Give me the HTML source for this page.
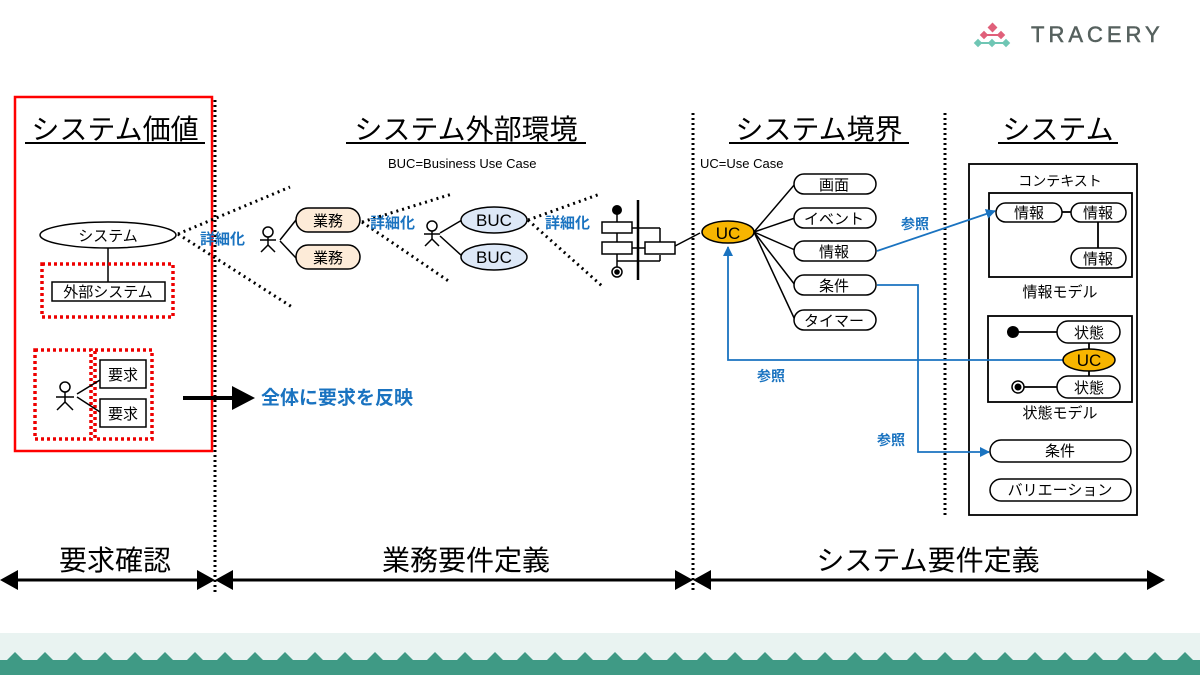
<!DOCTYPE html>
<html><head><meta charset="utf-8"><style>
html,body{margin:0;padding:0;background:#fff;}
svg{display:block;font-family:"Liberation Sans","Noto Sans CJK JP",sans-serif;}
</style></head><body>
<svg width="1200" height="675" viewBox="0 0 1200 675" xmlns="http://www.w3.org/2000/svg">
<defs>
<marker id="ab" markerWidth="10" markerHeight="10" refX="9" refY="5" orient="auto" markerUnits="userSpaceOnUse"><path d="M0,0 L10,5 L0,10 z" fill="#1a73c0"/></marker>
<pattern id="zz" x="0" y="648" width="30" height="16" patternUnits="userSpaceOnUse">
<path d="M0,12 L7,12 L15,4 L23,12 L30,12 L30,16 L0,16z" fill="#3f9a85"/>
</pattern>
</defs>
<!-- footer -->
<rect x="0" y="633" width="1200" height="42" fill="#e9f3f1"/>
<rect x="0" y="660" width="1200" height="15" fill="#3f9a85"/>
<rect x="0" y="648" width="1200" height="16" fill="url(#zz)"/>
<!-- logo -->
<g>
<rect x="989" y="24" width="7" height="7" fill="#e0607a" transform="rotate(45 992.5 27.5)"/>
<rect x="981" y="32" width="6" height="6" fill="#e0607a" transform="rotate(45 984 35)"/>
<rect x="998" y="32" width="6" height="6" fill="#e0607a" transform="rotate(45 1001 35)"/>
<line x1="984" y1="35" x2="1001" y2="35" stroke="#e0607a" stroke-width="2"/>
<rect x="975" y="40" width="6" height="6" fill="#6fc6b4" transform="rotate(45 978 43)"/>
<rect x="989" y="40" width="6" height="6" fill="#6fc6b4" transform="rotate(45 992 43)"/>
<rect x="1003" y="40" width="6" height="6" fill="#6fc6b4" transform="rotate(45 1006 43)"/>
<line x1="978" y1="43" x2="1006" y2="43" stroke="#6fc6b4" stroke-width="2"/>
<text x="1031" y="42" font-size="22" letter-spacing="4" fill="#56615e" stroke="#56615e" stroke-width="0.5">TRACERY</text>
</g>
<!-- headings -->
<g font-size="28" fill="#000" text-anchor="middle">
<text x="115" y="139">システム価値</text>
<text x="466" y="139">システム外部環境</text>
<text x="819" y="139">システム境界</text>
<text x="1058" y="139">システム</text>
</g>
<line x1="25" y1="143" x2="205" y2="143" stroke="#000" stroke-width="2"/>
<line x1="346" y1="143" x2="586" y2="143" stroke="#000" stroke-width="2"/>
<line x1="729" y1="143" x2="909" y2="143" stroke="#000" stroke-width="2"/>
<line x1="998" y1="143" x2="1118" y2="143" stroke="#000" stroke-width="2"/>
<text x="388" y="168" font-size="13">BUC=Business Use Case</text>
<text x="700" y="168" font-size="13">UC=Use Case</text>
<!-- red box -->
<rect x="15" y="97" width="197" height="354" fill="none" stroke="#f00" stroke-width="2.5"/>
<!-- vertical dotted -->
<g stroke="#000" stroke-width="3" stroke-dasharray="2,3">
<line x1="215" y1="100" x2="215" y2="592"/>
<line x1="693" y1="113" x2="693" y2="592"/>
<line x1="945" y1="113" x2="945" y2="516"/>
</g>
<!-- bottom arrows -->
<g stroke="#000" stroke-width="3">
<line x1="10" y1="580" x2="205" y2="580"/>
<line x1="225" y1="580" x2="683" y2="580"/>
<line x1="703" y1="580" x2="1155" y2="580"/>
</g>
<g fill="#000">
<path d="M0,580 L18,570 L18,590z"/><path d="M215,580 L197,570 L197,590z"/>
<path d="M215,580 L233,570 L233,590z"/><path d="M693,580 L675,570 L675,590z"/>
<path d="M693,580 L711,570 L711,590z"/><path d="M1165,580 L1147,570 L1147,590z"/>
</g>
<g font-size="28" text-anchor="middle">
<text x="115" y="570">要求確認</text>
<text x="466" y="570">業務要件定義</text>
<text x="928" y="570">システム要件定義</text>
</g>
<!-- left content -->
<ellipse cx="108" cy="235" rx="68" ry="13" fill="#fff" stroke="#000" stroke-width="1.5"/>
<text x="108" y="241" font-size="15" text-anchor="middle">システム</text>
<line x1="108" y1="248" x2="108" y2="282" stroke="#000" stroke-width="1.5"/>
<rect x="42" y="264" width="131" height="53" fill="none" stroke="#e00" stroke-width="3.5" stroke-dasharray="3,3"/>
<rect x="52" y="282" width="113" height="19" fill="#fff" stroke="#000" stroke-width="1.5"/>
<text x="108" y="297" font-size="15" text-anchor="middle">外部システム</text>
<rect x="35" y="350" width="56" height="89" fill="none" stroke="#e00" stroke-width="3.5" stroke-dasharray="3,3"/>
<rect x="95" y="350" width="57" height="89" fill="none" stroke="#e00" stroke-width="3.5" stroke-dasharray="3,3"/>
<g stroke="#000" stroke-width="1.5" fill="#fff">
<circle cx="65" cy="387" r="5"/><line x1="65" y1="392" x2="65" y2="402"/><line x1="56" y1="397" x2="74" y2="397"/><line x1="65" y1="402" x2="57" y2="410"/><line x1="65" y1="402" x2="73" y2="410"/>
<line x1="77" y1="394" x2="100" y2="380"/><line x1="77" y1="397" x2="100" y2="412"/>
<rect x="100" y="360" width="46" height="28"/><rect x="100" y="399" width="46" height="28"/>
</g>
<text x="123" y="380" font-size="15" text-anchor="middle">要求</text>
<text x="123" y="419" font-size="15" text-anchor="middle">要求</text>
<line x1="183" y1="398" x2="235" y2="398" stroke="#000" stroke-width="4"/>
<path d="M255,398 L232,386 L232,410z" fill="#000"/>
<text x="261" y="404" font-size="19" font-weight="bold" fill="#1a73c0">全体に要求を反映</text>
<!-- fans -->
<g stroke="#000" stroke-width="3" stroke-dasharray="2,4">
<line x1="178" y1="234" x2="290" y2="187"/><line x1="178" y1="234" x2="292" y2="307"/>
<line x1="362" y1="222" x2="452" y2="194"/><line x1="362" y1="222" x2="450" y2="282"/>
<line x1="528" y1="220" x2="600" y2="194"/><line x1="528" y1="220" x2="602" y2="286"/>
</g>
<g font-size="15" font-weight="bold" fill="#1a73c0">
<text x="200" y="244">詳細化</text>
<text x="370" y="228">詳細化</text>
<text x="545" y="228">詳細化</text>
</g>
<g stroke="#000" stroke-width="1.5" fill="#fff">
<circle cx="268" cy="232" r="5"/><line x1="268" y1="237" x2="268" y2="245"/><line x1="260" y1="240" x2="276" y2="240"/><line x1="268" y1="245" x2="261" y2="252"/><line x1="268" y1="245" x2="275" y2="252"/>
<line x1="280" y1="240" x2="296" y2="220"/><line x1="280" y1="241" x2="296" y2="258"/>
<rect x="296" y="208" width="64" height="24" rx="12" fill="#fdebd8"/>
<rect x="296" y="245" width="64" height="24" rx="12" fill="#fdebd8"/>
<circle cx="432" cy="226" r="5"/><line x1="432" y1="231" x2="432" y2="239"/><line x1="424" y1="234" x2="440" y2="234"/><line x1="432" y1="239" x2="425" y2="246"/><line x1="432" y1="239" x2="439" y2="246"/>
<line x1="440" y1="233" x2="462" y2="220"/><line x1="440" y1="236" x2="462" y2="256"/>
<ellipse cx="494" cy="220" rx="33" ry="13" fill="#dde8f7"/>
<ellipse cx="494" cy="257" rx="33" ry="13" fill="#dde8f7"/>
</g>
<text x="328" y="226" font-size="15" text-anchor="middle">業務</text>
<text x="328" y="263" font-size="15" text-anchor="middle">業務</text>
<text x="494" y="226" font-size="17" text-anchor="middle">BUC</text>
<text x="494" y="263" font-size="17" text-anchor="middle">BUC</text>
<!-- state machine icon -->
<g stroke="#000" stroke-width="1.5" fill="#fff">
<line x1="617" y1="210" x2="617" y2="272"/>
<line x1="632" y1="228" x2="660" y2="228"/><line x1="660" y1="228" x2="660" y2="242"/>
<line x1="632" y1="248" x2="645" y2="248"/><line x1="617" y1="261" x2="660" y2="261"/><line x1="660" y1="261" x2="660" y2="255"/>
<rect x="602" y="222" width="30" height="11"/><rect x="602" y="242" width="30" height="12"/>
<rect x="645" y="242" width="30" height="12"/>
<line x1="638" y1="200" x2="638" y2="280" stroke-width="2.5"/>
<circle cx="617" cy="272" r="5"/>
<line x1="675" y1="246" x2="700" y2="233"/>
</g>
<circle cx="617" cy="210" r="5" fill="#000"/>
<circle cx="617" cy="272" r="2.8" fill="#000"/>
<!-- UC -->
<g stroke="#000" stroke-width="1.5" fill="#fff">
<line x1="754" y1="232" x2="795" y2="184"/><line x1="754" y1="232" x2="795" y2="218"/>
<line x1="754" y1="232" x2="795" y2="250"/><line x1="754" y1="232" x2="795" y2="285"/>
<line x1="754" y1="232" x2="795" y2="320"/>
<ellipse cx="728" cy="232" rx="26" ry="11" fill="#f7b500"/>
<rect x="794" y="174" width="82" height="20" rx="10"/>
<rect x="794" y="208" width="82" height="20" rx="10"/>
<rect x="794" y="241" width="82" height="20" rx="10"/>
<rect x="794" y="275" width="82" height="20" rx="10"/>
<rect x="794" y="310" width="82" height="20" rx="10"/>
</g>
<text x="728" y="239" font-size="17" text-anchor="middle">UC</text>
<g font-size="15" text-anchor="middle">
<text x="834" y="190">画面</text><text x="834" y="224">イベント</text><text x="834" y="257">情報</text><text x="834" y="291">条件</text><text x="834" y="326">タイマー</text>
</g>
<!-- system box -->
<g stroke="#000" fill="#fff" stroke-width="1.8">
<rect x="969" y="164" width="168" height="351"/>
<rect x="989" y="193" width="143" height="84"/>
<line x1="1062" y1="212" x2="1071" y2="212"/><line x1="1098" y1="222" x2="1098" y2="248"/>
<rect x="988" y="316" width="144" height="86"/>
<line x1="1013" y1="332" x2="1057" y2="332"/><line x1="1018" y1="387" x2="1057" y2="387"/>
<line x1="1089" y1="343" x2="1089" y2="376"/>
</g>
<!-- blue refs -->
<g stroke="#1a73c0" stroke-width="1.8" fill="none">
<line x1="877" y1="251" x2="995" y2="211" marker-end="url(#ab)"/>
<polyline points="877,285 918,285 918,452 989,452" marker-end="url(#ab)"/>
<polyline points="1063,360 728,360 728,247" marker-end="url(#ab)"/>
</g>
<g stroke="#000" fill="#fff" stroke-width="1.5">
<rect x="996" y="203" width="66" height="19" rx="9.5"/>
<rect x="1071" y="203" width="55" height="19" rx="9.5"/>
<rect x="1071" y="248" width="55" height="20" rx="10"/>
<rect x="1057" y="321" width="63" height="22" rx="11"/>
<ellipse cx="1089" cy="360" rx="26" ry="11" fill="#f7b500"/>
<rect x="1057" y="376" width="63" height="22" rx="11"/>
<circle cx="1018" cy="387" r="6"/>
<rect x="990" y="440" width="141" height="22" rx="11"/>
<rect x="990" y="479" width="141" height="22" rx="11"/>
</g>
<g font-size="14" font-weight="bold" fill="#1a73c0">
<text x="901" y="229">参照</text><text x="757" y="381">参照</text><text x="877" y="445">参照</text>
</g>
<circle cx="1013" cy="332" r="6" fill="#000"/>
<circle cx="1018" cy="387" r="3.5" fill="#000"/>
<g font-size="15" text-anchor="middle">
<text x="1060" y="186" font-size="14">コンテキスト</text>
<text x="1029" y="218">情報</text><text x="1098" y="218">情報</text><text x="1098" y="264">情報</text>
<text x="1060" y="297">情報モデル</text>
<text x="1089" y="338">状態</text><text x="1089" y="366" font-size="17">UC</text><text x="1089" y="393">状態</text>
<text x="1060" y="418">状態モデル</text>
<text x="1060" y="456">条件</text><text x="1060" y="495">バリエーション</text>
</g>
</svg>
</body></html>
